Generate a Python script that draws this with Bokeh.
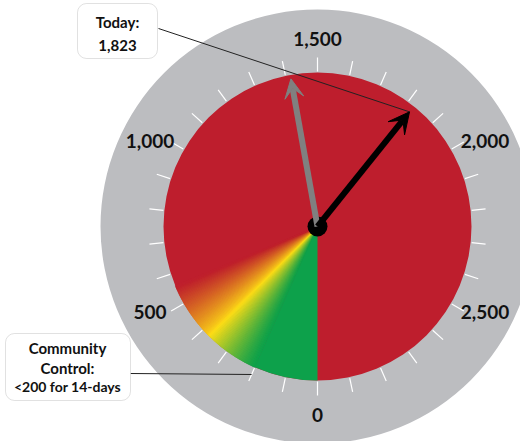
import numpy as np
from bokeh.plotting import figure
from bokeh.models import Range1d, Arrow, VeeHead, BoxAnnotation, Label
from bokeh.core.properties import value
from bokeh.embed import file_html
from bokeh.resources import INLINE

# ---- data ----
scale_max = 3000
tick_values = list(range(0, 3000, 100))
label_values = [0, 500, 1000, 1500, 2000, 2500]
label_texts = ["0", "500", "1,000", "1,500", "2,000", "2,500"]
today_value = 1823
previous_value = 1415
control_threshold = 200
gradient_end = 560
gradient_mid = 375

# ---- style ----
GRAY = "#BCBDC0"
RED = "#BE1E2D"
GREEN = "#0DA14B"
YELLOW = "#FEDD17"
R_GRAY, R_RED = 217, 154
R_TICK0, R_TICK1 = 155, 169
R_LABEL = 188
FONT = "Lato"


def ang(v):
    """value -> angle in radians (0 at bottom, clockwise)."""
    return np.radians(270 - 360.0 * v / scale_max)


def polar(v, r):
    a = ang(np.asarray(v, dtype=float))
    return r * np.cos(a), r * np.sin(a)


p = figure(width=520, height=441, output_backend="svg", toolbar_location=None,
           x_range=Range1d(-317, 203), y_range=Range1d(-215, 226),
           x_axis_type=None, y_axis_type=None, min_border=0)
p.grid.visible = False
p.outline_line_color = None
p.background_fill_color = "white"
p.border_fill_color = "white"

# outer gray disc
p.circle(x=[0], y=[0], radius=R_GRAY, fill_color=GRAY, line_color=None)

# ticks
tx0, ty0 = polar(tick_values, R_TICK0)
tx1, ty1 = polar(tick_values, R_TICK1)
p.segment(x0=tx0, y0=ty0, x1=tx1, y1=ty1, line_color="white", line_width=1.2)

# red disc
p.circle(x=[0], y=[0], radius=R_RED, fill_color=RED, line_color=None)


# gradient wedges (green -> yellow -> red)
def hex2rgb(h):
    return np.array([int(h[i:i + 2], 16) for i in (1, 3, 5)], dtype=float)


def mix(c1, c2, t):
    c = hex2rgb(c1) * (1 - t) + hex2rgb(c2) * t
    return "#%02x%02x%02x" % tuple(int(round(x)) for x in c)


n = 90
edges = np.linspace(control_threshold, gradient_end, n + 1)
cols, starts, ends = [], [], []
for i in range(n):
    vm = 0.5 * (edges[i] + edges[i + 1])
    if vm <= gradient_mid:
        t = (vm - control_threshold) / (gradient_mid - control_threshold)
        cols.append(mix(GREEN, YELLOW, t ** 1.3))
    else:
        t = (vm - gradient_mid) / (gradient_end - gradient_mid)
        cols.append(mix(YELLOW, RED, t ** 0.8))
    starts.append(np.degrees(ang(edges[i + 1])) - 0.15)
    ends.append(np.degrees(ang(edges[i])) + 0.15)
p.wedge(x=0, y=0, radius=R_RED, start_angle=starts, end_angle=ends,
        start_angle_units="deg", end_angle_units="deg", direction="anticlock",
        fill_color=cols, line_color=cols, line_width=0.6)

# green wedge 0..200
p.wedge(x=0, y=0, radius=R_RED,
        start_angle=np.degrees(ang(control_threshold)), end_angle=np.degrees(ang(0)),
        start_angle_units="deg", end_angle_units="deg", direction="anticlock",
        fill_color=GREEN, line_color=None)

# scale labels (side labels sit slightly closer to the horizontal)
la = ang(np.asarray(label_values, dtype=float))
la = la - np.radians(3.5) * np.sin(2 * la)
lx, ly = R_LABEL * np.cos(la), R_LABEL * np.sin(la)
p.text(x=lx, y=ly, text=label_texts, text_font=value(FONT), text_font_style="bold",
       text_font_size="19px", text_color="#111111", text_align="center",
       text_baseline="middle")

# needles
gx, gy = polar(previous_value, 150)
p.add_layout(Arrow(end=VeeHead(size=19, fill_color="#808080", line_color="#808080"),
                   x_start=0, y_start=0, x_end=float(gx), y_end=float(gy),
                   line_color="#808080", line_width=6))
bx, by = polar(today_value, 147)
p.add_layout(Arrow(end=VeeHead(size=21, fill_color="black", line_color="black"),
                   x_start=0, y_start=0, x_end=float(bx), y_end=float(by),
                   line_color="black", line_width=6))

# callout leader lines
cx, cy = polar(control_threshold, 162)
p.segment(x0=[-159, -187], y0=[198, -147], x1=[float(bx), float(cx)],
          y1=[float(by), float(cy)], line_color="#222222", line_width=1,
          level="annotation")

# pivot
p.circle(x=[0], y=[0], radius=10, fill_color="black", line_color=None,
         level="annotation")

# callout boxes
p.add_layout(BoxAnnotation(left=-240, right=-160, top=223, bottom=168,
                           border_radius=9, fill_color="white", fill_alpha=1,
                           line_color="#9A9A9A", line_width=1))
p.add_layout(BoxAnnotation(left=-312, right=-187, top=-107, bottom=-174,
                           border_radius=9, fill_color="white", fill_alpha=1,
                           line_color="#9A9A9A", line_width=1))

for txt, x, y, fs in [("Today:", -200, 205, "15px"),
                      (f"{today_value:,}", -200, 181, "15px"),
                      ("Community", -250, -121, "15px"),
                      ("Control:", -250, -141, "15px"),
                      (f"<{control_threshold} for 14-days", -250, -160, "14px")]:
    p.add_layout(Label(x=x, y=y, text=txt, text_font=FONT, text_font_style="bold",
                       text_font_size=fs, text_color="#111111",
                       text_align="center", text_baseline="middle"))

open("out.html", "w").write(file_html(p, INLINE))
